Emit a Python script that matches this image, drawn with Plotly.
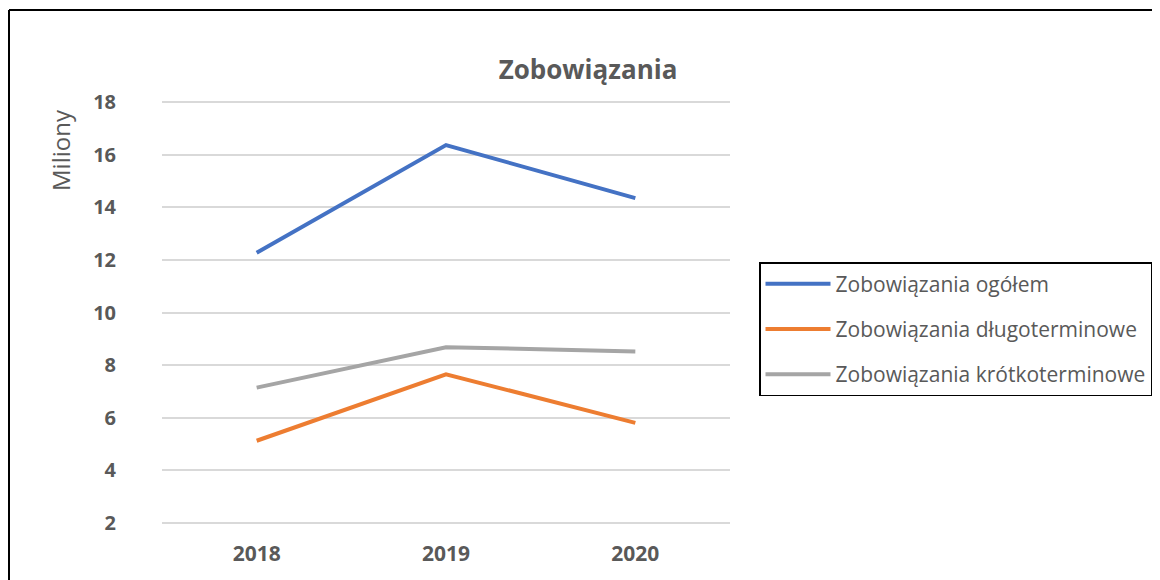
import plotly.graph_objects as go

years = ["2018", "2019", "2020"]
ogolem = [12.27, 16.37, 14.35]
dlugo = [5.12, 7.65, 5.8]
krotko = [7.14, 8.68, 8.52]

names = ["Zobowiązania ogółem", "Zobowiązania długoterminowe", "Zobowiązania krótkoterminowe"]
colors = ["#4472C4", "#ED7D31", "#A5A5A5"]
TEXT = "#595959"
FONT = "Open Sans, sans-serif"

# page adds ~8px body margin, so the figure is sized/placed to compensate
W, H = 1152, 572
L, T, R, B = 154, 89, 430, 52
PW, PH = W - L - R, H - T - B


def px_x(x):
    return (x - L) / PW


def px_y(y):
    return 1 - (y - T) / PH


fig = go.Figure()
for name, vals, col in zip(names, [ogolem, dlugo, krotko], colors):
    fig.add_trace(go.Scatter(x=years, y=vals, name=name, mode="lines",
                             legendgroup=name,
                             line=dict(color=col, width=4)))

fig.update_layout(
    width=W, height=H,
    paper_bgcolor="white", plot_bgcolor="white",
    font=dict(family=FONT, color=TEXT),
    margin=dict(l=L, r=R, t=T, b=B),
    title=dict(text="<b>Zobowiązania</b>", x=580 / W, xanchor="center",
               y=1 - 62 / H, yanchor="middle",
               font=dict(size=26, color=TEXT, family=FONT)),
    showlegend=True,
    legend=dict(x=751 / W, y=1 - 254 / H, xref="container", yref="container",
                xanchor="left", yanchor="top",
                bordercolor="black", borderwidth=1.5, bgcolor="white",
                font=dict(size=21, color=TEXT, family=FONT),
                tracegroupgap=15, itemwidth=65),
)

fig.update_xaxes(type="category", range=[-0.5, 2.5], showgrid=False,
                 showline=False, zeroline=False, ticks="", automargin=False,
                 tickfont=dict(size=21, color=TEXT, family=FONT, weight="bold"),
                 ticklabelstandoff=11)
fig.update_yaxes(range=[1.8, 18.2], tickvals=list(range(2, 19, 2)),
                 showgrid=True, gridcolor="#D9D9D9", automargin=False,
                 gridwidth=1.5, zeroline=False, showline=False, ticks="",
                 tickfont=dict(size=20, color=TEXT, family=FONT, weight="bold"),
                 ticklabelstandoff=45)

fig.add_annotation(text="Miliony", xref="paper", yref="paper",
                   x=px_x(52), y=px_y(142), xanchor="center", yanchor="middle",
                   textangle=-90, showarrow=False,
                   font=dict(size=24, color=TEXT, family=FONT))

# frame of the chart area (left and top edges visible in the crop)
fig.add_shape(type="line", xref="paper", yref="paper",
              x0=px_x(1), x1=px_x(1), y0=px_y(H + 5), y1=px_y(2),
              line=dict(color="black", width=2))
fig.add_shape(type="line", xref="paper", yref="paper",
              x0=px_x(1), x1=px_x(W + 5), y0=px_y(2), y1=px_y(2),
              line=dict(color="black", width=2))

fig.write_html("out.html")
